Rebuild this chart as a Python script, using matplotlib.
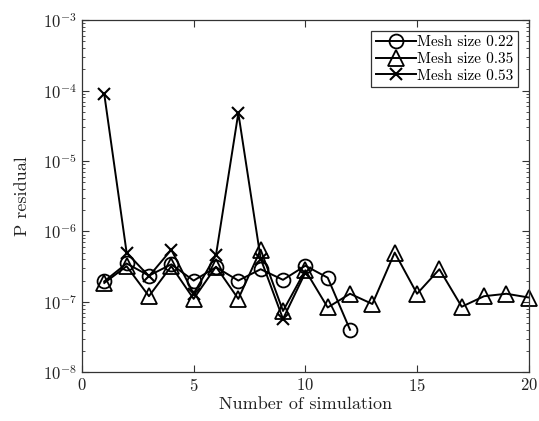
import matplotlib
matplotlib.use("Agg")
import matplotlib.pyplot as plt
from matplotlib.ticker import LogLocator, NullFormatter

plt.rcParams['font.family'] = 'serif'
plt.rcParams['font.serif'] = ['cmr10', 'DejaVu Serif']
plt.rcParams['mathtext.fontset'] = 'cm'
plt.rcParams['axes.formatter.use_mathtext'] = True

# simulation numbers
sim_022 = list(range(1, 13))
sim_035 = list(range(1, 21))
sim_053 = list(range(1, 11))

# P residual values
res_022 = [1.95e-7, 3.5e-7, 2.35e-7, 3.4e-7, 2.0e-7, 3.1e-7,
           2.0e-7, 2.9e-7, 2.05e-7, 3.25e-7, 2.2e-7, 4.0e-8]
res_035 = [1.85e-7, 3.2e-7, 1.2e-7, 3.2e-7, 1.1e-7, 3.15e-7,
           1.1e-7, 5.5e-7, 7.4e-8, 2.8e-7, 8.3e-8, 1.3e-7,
           9.3e-8, 5.0e-7, 1.3e-7, 2.9e-7, 8.5e-8, 1.2e-7,
           1.3e-7, 1.15e-7]
res_053 = [8.9e-5, 5.0e-7, 2.3e-7, 5.5e-7, 1.3e-7, 4.6e-7,
           4.8e-5, 4.1e-7, 5.7e-8, 2.6e-7]

fig = plt.figure(figsize=(5.39, 4.21), dpi=100)
ax = fig.add_axes([0.152, 0.116, 0.829, 0.836])

ax.plot(sim_022, res_022, color='k', lw=1.4, marker='o', ms=10,
        mfc='none', mec='k', mew=1.3, label='Mesh size 0.22', clip_on=False)
ax.plot(sim_035, res_035, color='k', lw=1.4, marker='^', ms=11,
        mfc='none', mec='k', mew=1.3, label='Mesh size 0.35', clip_on=False)
ax.plot(sim_053, res_053, color='k', lw=1.4, marker='x', ms=8,
        mec='k', mew=1.5, label='Mesh size 0.53', clip_on=False)

ax.set_yscale('log')
ax.set_xlim(0, 20)
ax.set_ylim(1e-8, 1e-3)
ax.set_xticks([0, 5, 10, 15, 20])
ax.yaxis.set_major_locator(LogLocator(base=10, numticks=10))
ax.yaxis.set_minor_locator(LogLocator(base=10, subs=range(2, 10), numticks=10))
ax.yaxis.set_minor_formatter(NullFormatter())
ax.tick_params(which='both', direction='in', top=True, right=True,
               labelsize=12, color='#333333', labelcolor='#222222')
ax.tick_params(which='major', length=5)
ax.tick_params(which='minor', length=2.5)
for s in ax.spines.values():
    s.set_linewidth(0.9)
    s.set_color('#333333')

ax.set_xlabel('Number of simulation', fontsize=13, labelpad=2, color='#222222')
ax.set_ylabel('P residual', fontsize=13, labelpad=9, color='#222222')

leg = ax.legend(loc='upper right', fontsize=11, fancybox=False, edgecolor='#333333',
                framealpha=1, handlelength=2.6, handletextpad=0.1,
                borderpad=0.3, labelspacing=0.2, borderaxespad=0.7)
leg.get_frame().set_linewidth(0.9)

fig.savefig('out.png', dpi=100)
